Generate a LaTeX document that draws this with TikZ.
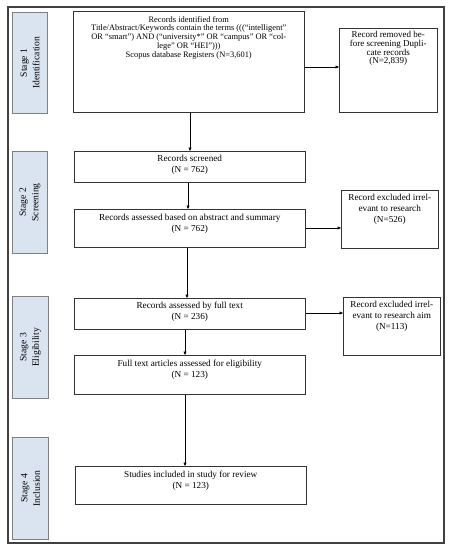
\documentclass[tikz,border=0pt]{standalone}
\usepackage{fontspec}
\setmainfont{Liberation Serif}
\usetikzlibrary{arrows.meta}
\definecolor{stagefill}{HTML}{DAE3F0}
\definecolor{stageline}{HTML}{808080}
\definecolor{frameline}{HTML}{404040}
\begin{document}
\begin{tikzpicture}[x=1pt,y=-1pt,
  txt/.style={font=\fontsize{9.2}{11}\selectfont,align=center,anchor=north,inner sep=0pt},
  txtA/.style={font=\fontsize{8.4}{8.8}\selectfont,align=center,anchor=north,inner sep=0pt},
  txtB/.style={font=\fontsize{9}{8.6}\selectfont,align=center,anchor=north,inner sep=0pt},
  box/.style={draw=black!80,line width=0.5pt,fill=white,inner sep=0pt,anchor=north west},
  stagebox/.style={draw=stageline,fill=stagefill,line width=0.8pt,inner sep=0pt,anchor=north west},
  stagelabel/.style={rotate=90,align=center,font=\fontsize{9.6}{12.5}\selectfont},
  arr/.style={-{Triangle[length=3.5pt,width=3pt]},line width=0.5pt}]
\useasboundingbox (0,0) rectangle (452,550);
\draw[frameline,line width=1.1pt] (8,7) rectangle (444,543);
% stage boxes
\node[stagebox,minimum width=35pt,minimum height=101pt] (s1) at (12,12) {};
\node[stagelabel] (l1) at (s1.center) {Stage 1\\Identification};
\node[stagebox,minimum width=35pt,minimum height=102pt] (s2) at (12,151) {};
\node[stagelabel] (l2) at (s2.center) {Stage 2\\Screening};
\node[stagebox,minimum width=36pt,minimum height=102pt] (s3) at (12,296) {};
\node[stagelabel] (l3) at (s3.center) {Stage 3\\Eligibility};
\node[stagebox,minimum width=36pt,minimum height=102pt] (s4) at (12,437) {};
\node[stagelabel] (l4) at (s4.center) {Stage 4\\Inclusion};
% main boxes
\node[box,minimum width=231pt,minimum height=101pt] (b1) at (73,11) {};
\node[txtA] (t1) at ([yshift=-5pt]b1.north) {Records identified from\\Title/Abstract/Keywords contain the terms (((“intelligent”\\OR “smart”) AND (“university*” OR “campus” OR “col-\\lege” OR “HEI”)))\\Scopus database Registers (N=3,601)};
\node[box,minimum width=98pt,minimum height=84pt] (r1) at (339,28) {};
\node[txtB] (u1) at ([yshift=-3.5pt]r1.north) {Record removed be-\\fore screening Dupli-\\cate records\\(N=2,839)};
\node[box,minimum width=231pt,minimum height=31pt] (b2) at (74,151) {};
\node[txt] (t2) at ([yshift=-4pt]b2.north) {Records screened\\(N = 762)};
\node[box,minimum width=231pt,minimum height=38pt] (b3) at (74,209) {};
\node[txt] (t3) at ([yshift=-5pt]b3.north) {Records assessed based on abstract and summary\\(N = 762)};
\node[box,minimum width=97pt,minimum height=58pt] (r2) at (341,190) {};
\node[txt] (u2) at ([yshift=-4pt]r2.north) {Record excluded irrel-\\evant to research\\(N=526)};
\node[box,minimum width=231pt,minimum height=31pt] (b4) at (74,298) {};
\node[txt] (t4) at ([yshift=-4pt]b4.north) {Records assessed by full text\\(N = 236)};
\node[box,minimum width=97pt,minimum height=58pt] (r3) at (343,297) {};
\node[txt] (u3) at ([yshift=-4pt]r3.north) {Record excluded irrel-\\evant to research aim\\(N=113)};
\node[box,minimum width=231pt,minimum height=39pt] (b5) at (74,355) {};
\node[txt] (t5) at ([yshift=-5pt]b5.north) {Full text articles assessed for eligibility\\(N = 123)};
\node[box,minimum width=231pt,minimum height=38pt] (b6) at (75,466) {};
\node[txt] (t6) at ([yshift=-5pt]b6.north) {Studies included in study for review\\(N = 123)};
% arrows
\draw[arr] (b1.south -| 190,0) -- (b2.north -| 190,0);
\draw[arr] (b2.south -| 188,0) -- (b3.north -| 188,0);
\draw[arr] (b3.south -| 187,0) -- (b4.north -| 187,0);
\draw[arr] (b4.south -| 185,0) -- (b5.north -| 185,0);
\draw[arr] (b5.south -| 185,0) -- (b6.north -| 185,0);
\draw[arr] (b1.east |- 0,67) -- (r1.west |- 0,67);
\draw[arr] (b3.east |- 0,228) -- (r2.west |- 0,228);
\draw[arr] (b4.east |- 0,313) -- (r3.west |- 0,313);
\end{tikzpicture}
\end{document}
